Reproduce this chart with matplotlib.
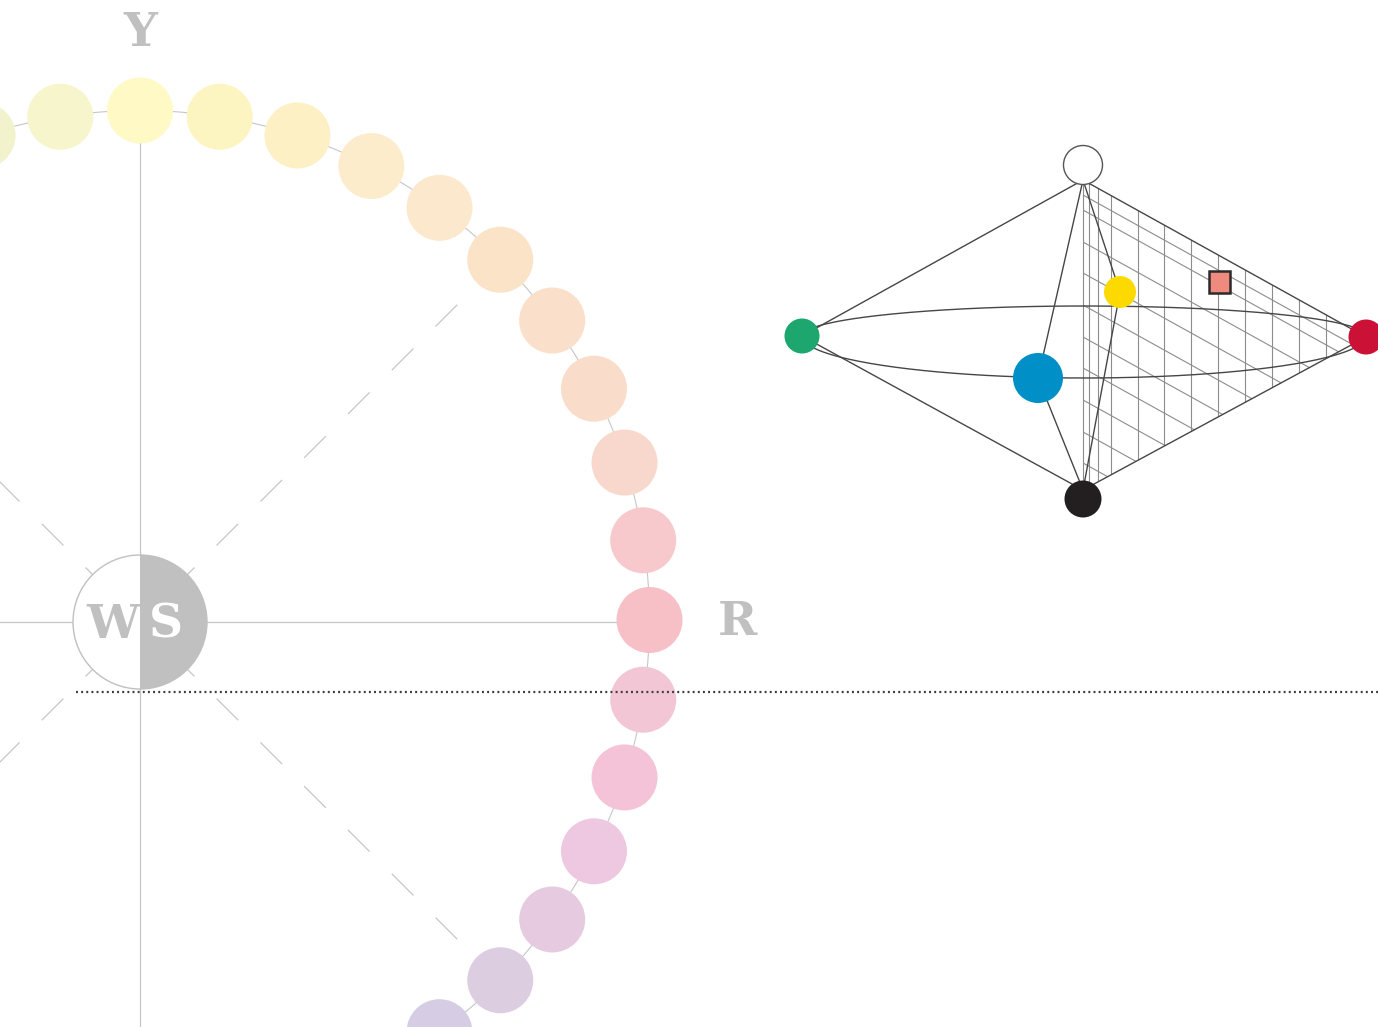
import numpy as np
import matplotlib
matplotlib.use("Agg")
import matplotlib.pyplot as plt
from matplotlib.patches import Circle, Wedge, Polygon, Rectangle

plt.rcParams['lines.scale_dashes'] = False

# hue circle: angle of each sample (deg) and its colour
hue_angles = [108, 99, 90, 81, 72, 63, 54, 45, 36, 27, 18, 9, 0, -9, -18, -27, -36, -45, -54]
hue_colors = ['#f2f3cc', '#f6f5cc', '#fef9c5', '#fcf5c2', '#fdf0c4', '#fceccb', '#fce8cc',
              '#fbe3c8', '#fae0ca', '#f9dcc9', '#f8d8cd', '#f7c9cc', '#f6c0c6', '#f3c6d5',
              '#f4c3d7', '#edc8e0', '#e6cae0', '#ddcde0', '#d6cde4']
axis_labels = ['Y', 'R']
center_labels = ['W', 'S']

# double cone nodes (pixel layout)
cone_nodes = {
    'white': (1083, 165, 19.5, '#ffffff'),
    'black': (1083, 499, 18.5, '#231f20'),
    'green': (802, 336, 17.5, '#1da66e'),
    'red': (1366, 337, 17.5, '#cc1136'),
    'blue': (1038, 378, 25, '#008fc6'),
    'yellow': (1120, 292, 16, '#fcda00'),
}
hatch_x = [1089, 1098, 1111, 1138, 1164, 1191, 1218, 1245, 1272, 1299, 1326]
hatch_y = [195, 210, 242, 273, 305, 337, 368, 400, 432, 463]
sample_sq = (1219, 282)

W, H = 1378, 1027
fig = plt.figure(figsize=(W / 100, H / 100), dpi=100)
ax = fig.add_axes([0, 0, 1, 1])
ax.set_xlim(0, W)
ax.set_ylim(H, 0)
ax.set_aspect('equal')
ax.axis('off')

grey = '#c6c6c6'
cx, cy, R = 140, 620, 509.5
wy = 622  # centre of the W/S disc and the axis lines

# ---- hue circle ----
t = np.linspace(0, 2 * np.pi, 721)
ax.plot(cx + R * np.cos(t), cy - R * np.sin(t), color=grey, lw=0.8, zorder=1)
ax.plot([0, cx + R], [wy, wy], color=grey, lw=0.9, zorder=1)
ax.plot([cx, cx], [cy - R, H], color=grey, lw=0.9, zorder=1)
for a in [45, 135, 225, 315]:
    r = np.radians(a)
    ax.plot([cx, cx + 449 * np.cos(r)], [wy, wy - 449 * np.sin(r)], color=grey, lw=0.9,
            linestyle=(11.2, (22, 22.6)), zorder=1)
for a, c in zip(hue_angles, hue_colors):
    r = np.radians(a)
    ax.add_patch(Circle((cx + R * np.cos(r), cy - R * np.sin(r)), 33, fc=c, ec='none', zorder=3))

# W / S disc
ax.add_patch(Wedge((cx, wy), 67, 90, 270, fc='white', ec='none', zorder=4))
ax.add_patch(Wedge((cx, wy), 67, -90, 90, fc='#c0c0c0', ec='none', zorder=4))
ax.add_patch(Circle((cx, wy), 67, fc='none', ec='#c0c0c0', lw=1, zorder=5))
fkw = dict(family='DejaVu Serif', fontweight='bold', fontsize=34, ha='center', va='center', zorder=6)
ax.text(113, 625, center_labels[0], color='#c0c0c0', **fkw)
ax.text(166, 625, center_labels[1], color='white', **fkw)
ax.text(140, 33, axis_labels[0], color='#c0c0c0', **fkw)
ax.text(737, 622, axis_labels[1], color='#c0c0c0', **fkw)

# dotted reference line
ax.plot([76, W], [692, 692], color='#3c3c3c', lw=1.6, linestyle=(0, (1.4, 2.3)), zorder=7)

# ---- double cone ----
top = (1083, 180)
bot = (1083, 490)
gx, gy = cone_nodes['green'][:2]
rx, ry = cone_nodes['red'][:2]
bx, by = cone_nodes['blue'][:2]
yx, yy = cone_nodes['yellow'][:2]
lc = '#464646'
lkw = dict(color=lc, lw=1.0, zorder=10)

tri = Polygon([top, (rx, ry), bot], closed=True, fc='none', ec='none')
ax.add_patch(tri)
hk = dict(color='#8c8c8c', lw=0.8, zorder=9)
for x in hatch_x:
    ln, = ax.plot([x, x], [0, H], **hk)
    ln.set_clip_path(tri)
slope = (ry - top[1]) / (rx - top[0])
for y0 in hatch_y:
    ln, = ax.plot([top[0], rx + 50], [y0, y0 + slope * (rx + 50 - top[0])], **hk)
    ln.set_clip_path(tri)
ax.plot([top[0], top[0]], [top[1], bot[1]], **hk)

for p, q in [((gx, gy), top), ((gx, gy), bot), (top, (rx, ry)), (bot, (rx, ry)),
             (top, (bx, by)), ((bx, by), bot), (top, (yx, yy)), ((yx, yy), bot)]:
    ax.plot([p[0], q[0]], [p[1], q[1]], **lkw)

# equator: upper (back) and lower (front, through blue)
s = np.linspace(0, np.pi, 200)
ex = (gx + rx) / 2 - (rx - gx) / 2 * np.cos(s)
ax.plot(ex, gy - 30 * np.sin(s), **lkw)
ax.plot(ex, gy + 42 * np.sin(s), **lkw)

for name, (x, y, r, c) in cone_nodes.items():
    ec = '#555555' if name == 'white' else 'none'
    ax.add_patch(Circle((x, y), r, fc=c, ec=ec, lw=1, zorder=12))
ax.add_patch(Rectangle((sample_sq[0] - 10.5, sample_sq[1] - 11), 21, 22,
                       fc='#ef8a7e', ec='#2b2b2b', lw=1.8, zorder=12))

fig.savefig('out.png', dpi=100)
